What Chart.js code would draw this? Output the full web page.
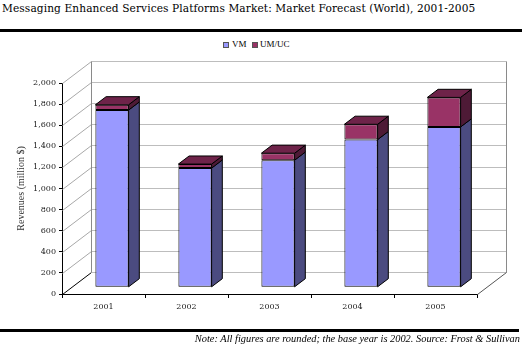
<!DOCTYPE html>
<html><head><meta charset="utf-8">
<script src="https://cdn.jsdelivr.net/npm/chart.js@4/dist/chart.umd.min.js"></script>
<style>
html,body{margin:0;padding:0;background:#fff;width:522px;height:352px;overflow:hidden;}
body{position:relative;font-family:"Liberation Serif",serif;color:#000}
#c{position:absolute;left:0;top:0}
.title{position:absolute;left:2px;top:2px;font-family:"DejaVu Serif",serif;font-size:10.6px;white-space:nowrap;letter-spacing:0.1px}
.rule{position:absolute;left:0;height:3px;background:#000}
.legend{position:absolute;top:39px;font-size:9px;white-space:nowrap}
.box{position:absolute;width:4px;height:4px;border:1px solid #555}
.note{position:absolute;right:2px;top:333px;font-style:italic;font-size:10.4px;white-space:nowrap}
</style></head>
<body>
<div class="title">Messaging Enhanced Services Platforms Market: Market Forecast (World), 2001-2005</div>
<div class="rule" style="top:29px;width:522px"></div>
<div class="box" style="left:223px;top:42px;background:#9999ff"></div>
<div class="legend" style="left:232px">VM</div>
<div class="box" style="left:252px;top:42px;background:#993366"></div>
<div class="legend" style="left:260px">UM/UC</div>
<canvas id="c" width="522" height="352"></canvas>
<div class="rule" style="top:329px;width:519px"></div>
<div class="note">Note: All figures are rounded; the base year is 2002. Source: Frost &amp; Sullivan</div>
<script>
const categories = ['2001', '2002', '2003', '2004', '2005'];
const vmValues = [1680, 1130, 1205, 1400, 1520];
const umValues = [50, 38, 66, 145, 280];
const yMax = 2000;
const yStep = 200;

const WALL_DX = 29, WALL_DY = 22;   // perspective depth of walls
const BAR_DX = 8.5, BAR_DY = 6.7;   // bar placement depth
const SIDE_DX = 10.7, SIDE_DY = 8.1; // bar thickness depth

function seg(ctx, x1, y1, x2, y2) { ctx.beginPath(); ctx.moveTo(x1, y1); ctx.lineTo(x2, y2); ctx.stroke(); }

const depth3d = {
  id: 'depth3d',
  beforeDatasetsDraw(chart) {
    const { ctx, chartArea: a, scales: { y } } = chart;
    ctx.save();
    ctx.lineWidth = 1;
    const y0 = Math.round(y.getPixelForValue(0)) + 0.5;
    const yT = Math.round(y.getPixelForValue(yMax)) + 0.5;
    const L = Math.round(a.left) + 0.5, R = Math.round(a.right) + 0.5;
    y.ticks.forEach(t => {
      const py = Math.round(y.getPixelForValue(t.value)) + 0.5;
      ctx.strokeStyle = t.value === 0 ? '#000' : '#a8a8a8';
      seg(ctx, L, py, L + WALL_DX, py - WALL_DY);
      ctx.strokeStyle = '#bdbdbd';
      seg(ctx, L + WALL_DX, py - WALL_DY, R + WALL_DX, py - WALL_DY);
    });
    ctx.strokeStyle = '#8a8a8a';
    seg(ctx, L + WALL_DX, y0 - WALL_DY, L + WALL_DX, yT - WALL_DY);
    seg(ctx, R + WALL_DX, y0 - WALL_DY, R + WALL_DX, yT - WALL_DY);
    ctx.strokeStyle = '#555';
    seg(ctx, R, y0, R + WALL_DX, y0 - WALL_DY);
    ctx.restore();
    ctx.save();
    ctx.translate(BAR_DX, -BAR_DY);
  },
  afterDatasetsDraw(chart) {
    const ctx = chart.ctx;
    const n = chart.data.datasets.length;
    chart.data.datasets.forEach((ds, di) => {
      const meta = chart.getDatasetMeta(di);
      meta.data.forEach(bar => {
        const { x, y, base, width } = bar.getProps(['x', 'y', 'base', 'width'], true);
        const l = x - width / 2, r = x + width / 2;
        ctx.lineWidth = 1;
        ctx.strokeStyle = '#000';
        ctx.fillStyle = ds.sideColor;
        ctx.beginPath();
        ctx.moveTo(r, y); ctx.lineTo(r + SIDE_DX, y - SIDE_DY);
        ctx.lineTo(r + SIDE_DX, base - SIDE_DY); ctx.lineTo(r, base); ctx.closePath();
        ctx.fill(); ctx.stroke();
        if (di === n - 1) {
          ctx.fillStyle = ds.topColor;
          ctx.beginPath();
          ctx.moveTo(l, y); ctx.lineTo(l + SIDE_DX, y - SIDE_DY);
          ctx.lineTo(r + SIDE_DX, y - SIDE_DY); ctx.lineTo(r, y); ctx.closePath();
          ctx.fill(); ctx.stroke();
        }
      });
    });
    ctx.restore();
  }
};

new Chart(document.getElementById('c'), {
  type: 'bar',
  data: {
    labels: categories,
    datasets: [
      { label: 'VM', data: vmValues, backgroundColor: '#9999ff', sideColor: '#4b4b80', topColor: '#6c6cb8',
        borderColor: '#000', borderWidth: 1, borderSkipped: false, barPercentage: 0.4, categoryPercentage: 1, clip: false },
      { label: 'UM/UC', data: umValues, backgroundColor: '#993366', sideColor: '#4e1a36', topColor: '#6e2349',
        borderColor: '#000', borderWidth: 1, borderSkipped: false, barPercentage: 0.4, categoryPercentage: 1, clip: false }
    ]
  },
  options: {
    responsive: false,
    animation: false,
    devicePixelRatio: 1,
    layout: { padding: { top: 83, right: 45, left: 0, bottom: 0 } },
    plugins: { legend: { display: false }, tooltip: { enabled: false } },
    scales: {
      x: {
        stacked: true,
        grid: { display: true, drawOnChartArea: false, tickLength: 4, color: '#000', offset: true },
        border: { display: true, color: '#000' },
        ticks: { font: { family: 'DejaVu Serif', size: 8 }, color: '#222', padding: 4 },
        afterFit: s => { s.height = 58; }
      },
      y: {
        stacked: true,
        min: 0, max: yMax,
        ticks: { stepSize: yStep, font: { family: 'DejaVu Serif', size: 8 }, color: '#222', padding: 3 },
        grid: { display: true, drawOnChartArea: false, tickLength: 3, color: '#000' },
        border: { display: true, color: '#000' },
        title: { display: true, text: 'Revenues (million $)', font: { family: 'Liberation Serif', size: 10 }, color: '#333', padding: { top: 15, bottom: 0 } },
        afterFit: s => { s.width = 62; }
      }
    }
  },
  plugins: [depth3d]
});
</script>
</body></html>
